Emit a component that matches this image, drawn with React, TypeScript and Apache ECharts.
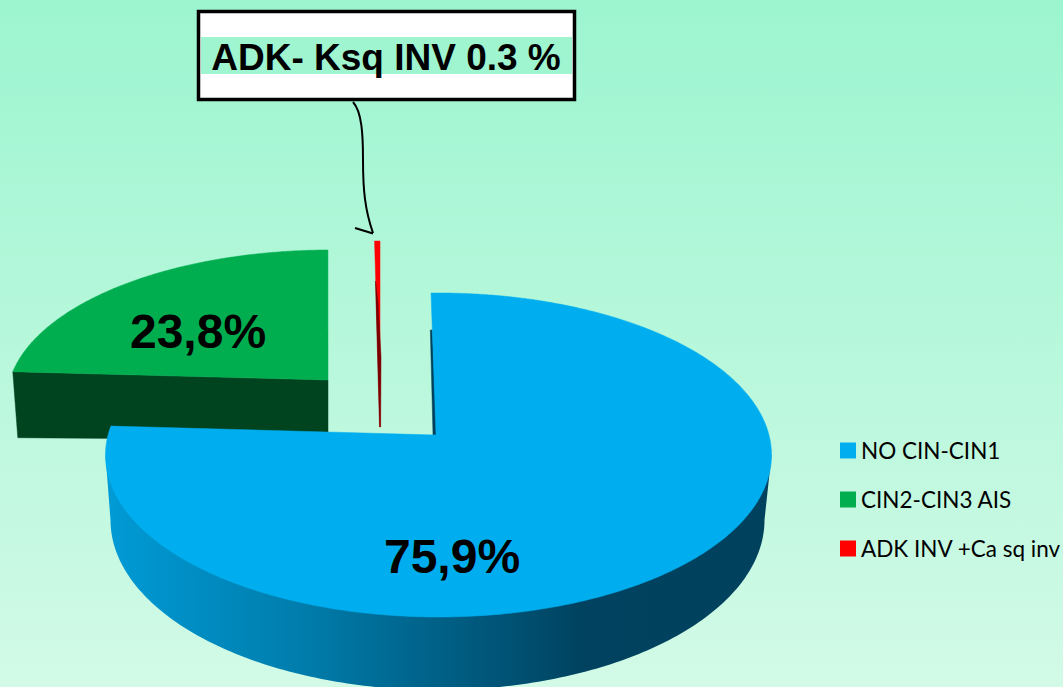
import React, { useEffect, useRef } from "react";
import * as echarts from "echarts";

const categories = ["NO CIN-CIN1", "CIN2-CIN3 AIS", "ADK INV +Ca sq inv"];
const percentValues = [75.9, 23.8, 0.3];
const sliceColors = ["#00AEEF", "#00AE50", "#FF0000"];
const calloutText = "ADK- Ksq INV 0.3 %";

const FONT = "'Liberation Sans', Arial, sans-serif";
const STEP = 0.5;
const rad = (d: number) => (d * Math.PI) / 180;

type Geo = {
  apex: [number, number];
  cx: number; cy: number; rx: number; ry: number;
  lean: number;
  labelAt?: [number, number];
};
const geometries: Geo[] = [
  { apex: [436, 435], cx: 438.5, cy: 455, rx: 333, ry: 162, lean: 0.035, labelAt: [452, 556] },
  { apex: [328, 380], cx: 330, cy: 400, rx: 323, ry: 150, lean: -0.04, labelAt: [198, 331] },
  { apex: [380, 427], cx: 382, cy: 447, rx: 320, ry: 206, lean: 0 },
];

// Where the ray from the apex, at a data angle clockwise from 12 o'clock, meets the rim.
function rimPoint(g: Geo, angleDeg: number): [number, number] {
  const dy0 = -Math.cos(rad(angleDeg)) * g.ry;
  const dx0 = Math.sin(rad(angleDeg)) * g.rx + g.lean * dy0;
  const ox = (g.apex[0] - g.cx) / g.rx;
  const oy = (g.apex[1] - g.cy) / g.ry;
  const ux = dx0 / g.rx;
  const uy = dy0 / g.ry;
  const a = ux * ux + uy * uy;
  const b = 2 * (ox * ux + oy * uy);
  const c = ox * ox + oy * oy - 1;
  const t = (-b + Math.sqrt(b * b - 4 * a * c)) / (2 * a);
  return [g.apex[0] + dx0 * t, g.apex[1] + dy0 * t];
}

function topFace(g: Geo, start: number, end: number): number[][] {
  const pts: number[][] = [g.apex];
  for (let a = start; a < end; a += STEP) pts.push(rimPoint(g, a));
  pts.push(rimPoint(g, end));
  return pts;
}

function arcOf(cx: number, cy: number, rx: number, ry: number): number[][] {
  const pts: number[][] = [];
  for (let a = 0; a <= 180; a += 1) {
    pts.push([cx + Math.cos(rad(a)) * rx, cy + Math.sin(rad(a)) * ry]);
  }
  return pts;
}

const blueSideFill = new echarts.graphic.LinearGradient(0, 0, 1, 0, [
  { offset: 0, color: "#009BD6" },
  { offset: 0.3, color: "#007CAB" },
  { offset: 0.72, color: "#00425F" },
  { offset: 1, color: "#00415E" },
]);

function poly(points: number[][], fill: any, stroke?: string) {
  return { type: "polygon", shape: { points }, style: { fill, stroke: stroke || fill, lineWidth: 0.5 } };
}

function label(g: Geo, value: number) {
  return {
    type: "text",
    x: g.labelAt![0],
    y: g.labelAt![1],
    style: {
      text: value.toFixed(1).replace(".", ",") + "%",
      fill: "#000000",
      font: `bold 48px ${FONT}`,
      align: "center",
      verticalAlign: "middle",
    },
  };
}

function sliceRenderer(index: number) {
  return (_params: any, api: any) => {
    const value = api.value(0);
    const total = percentValues.reduce((s, v) => s + v, 0);
    const before = percentValues.slice(0, index).reduce((s, v) => s + v, 0);
    const start = (before / total) * 360;
    const end = ((before + value) / total) * 360;
    const g = geometries[index];
    const children: any[] = [];
    const face = topFace(g, start, end);
    if (index === 0) {
      const lower = arcOf(g.cx - 1, g.cy + 65, 327, 170);
      const side = [[g.cx + g.rx, g.cy], ...lower, [g.cx - g.rx, g.cy]];
      children.push(poly(side, blueSideFill, "none"));
      const far = rimPoint(g, start);
      const wallTop = [g.apex[0] + (far[0] - g.apex[0]) * 0.74, g.apex[1] + (far[1] - g.apex[1]) * 0.74];
      children.push(poly([wallTop, [g.apex[0] + 0.5, g.apex[1]], [g.apex[0] - 3, g.apex[1]], [wallTop[0] - 2, wallTop[1]]], "#00415E"));
      children.push(poly(face, sliceColors[index]));
      children.push(label(g, value));
    } else if (index === 1) {
      const left = rimPoint(g, start);
      children.push(poly([left, g.apex, [g.apex[0], g.apex[1] + 60], [left[0] + 5, left[1] + 66]], "#00431F"));
      children.push(poly(face, sliceColors[index]));
      children.push(label(g, value));
    } else {
      children.push(poly(face, sliceColors[index]));
      children.push(poly([[g.apex[0] - 4.5, g.apex[1] - 146], [g.apex[0] - 0.5, g.apex[1]], [g.apex[0] + 0.6, g.apex[1]], [g.apex[0] + 1, g.apex[1] - 70], [g.apex[0] - 2, g.apex[1] - 125]], "#7A0000"));
    }
    return { type: "group", children };
  };
}

export default function App() {
  const ref = useRef<HTMLDivElement>(null);
  useEffect(() => {
    document.body.style.margin = "0";
    const chart = echarts.init(ref.current!, undefined, { renderer: "svg" });
    chart.setOption({
      animation: false,
      backgroundColor: new echarts.graphic.LinearGradient(0, 0, 0, 1, [
        { offset: 0, color: "#9CF5CF" },
        { offset: 1, color: "#D2FAE7" },
      ]),
      legend: {
        orient: "vertical",
        left: 840,
        top: 439,
        padding: 0,
        itemWidth: 16,
        itemHeight: 16,
        itemGap: 26,
        icon: "rect",
        selectedMode: false,
        data: categories,
        textStyle: { fontFamily: "Lato, sans-serif", fontSize: 22.5, color: "#000000" },
      },
      series: categories.map((name, i) => ({
        type: "custom",
        name,
        coordinateSystem: "none",
        itemStyle: { color: sliceColors[i] },
        data: [[percentValues[i]]],
        renderItem: sliceRenderer(i),
        z: [1, 0, 0][i] + 2,
      })),
      graphic: [
        { type: "rect", shape: { x: 198.5, y: 11.5, width: 376, height: 88 }, style: { fill: "#FFFFFF", stroke: "#000000", lineWidth: 3.5 }, z: 10 },
        { type: "rect", shape: { x: 201, y: 37, width: 371, height: 37 }, style: { fill: "#9EF5D0" }, z: 11 },
        { type: "text", x: 386, y: 57, style: { text: calloutText, font: `bold 37px ${FONT}`, fill: "#000000", align: "center", verticalAlign: "middle" }, z: 12 },
        { type: "bezierCurve", shape: { x1: 353, y1: 102, cpx1: 362, cpy1: 112, cpx2: 363, cpy2: 135, x2: 363, y2: 160 }, style: { stroke: "#000000", lineWidth: 2, fill: "none" }, z: 12 },
        { type: "bezierCurve", shape: { x1: 363, y1: 160, cpx1: 363, cpy1: 190, cpx2: 365, cpy2: 210, x2: 373, y2: 233 }, style: { stroke: "#000000", lineWidth: 2, fill: "none" }, z: 12 },
        { type: "line", shape: { x1: 355, y1: 228, x2: 373, y2: 233.5 }, style: { stroke: "#000000", lineWidth: 2 }, z: 12 },
      ],
    });
    return () => chart.dispose();
  }, []);
  return <div ref={ref} style={{ width: 1063, height: 687 }} />;
}
